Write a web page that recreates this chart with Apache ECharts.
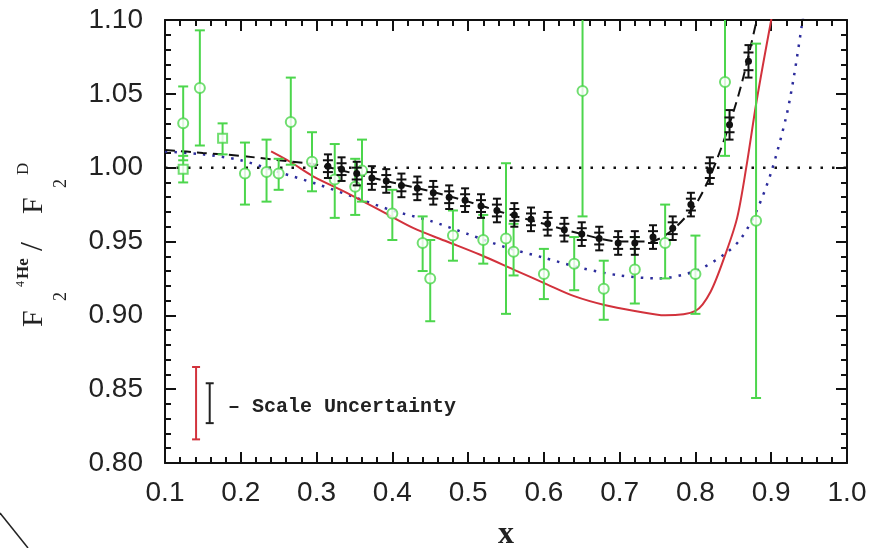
<!DOCTYPE html>
<html><head><meta charset="utf-8">
<script src="https://cdn.jsdelivr.net/npm/echarts@6/dist/echarts.min.js"></script>
<style>html,body{margin:0;padding:0;background:#fff;} #c{width:881px;height:548px;}</style>
</head><body><div id="c"></div>
<script>
// ---- data ----
const blackX = [0.315,0.333,0.353,0.373,0.392,0.412,0.433,0.454,0.475,0.496,0.517,0.538,0.561,0.583,0.605,0.627,0.650,0.673,0.698,0.720,0.744,0.770,0.794,0.819,0.845,0.870];
const blackY = [1.001,0.999,0.996,0.993,0.991,0.988,0.986,0.983,0.980,0.978,0.974,0.971,0.968,0.965,0.962,0.958,0.955,0.952,0.949,0.949,0.953,0.959,0.975,0.998,1.029,1.072];
const blackStat = [0.004,0.004,0.004,0.004,0.004,0.004,0.004,0.004,0.004,0.004,0.004,0.004,0.004,0.004,0.004,0.004,0.004,0.004,0.004,0.004,0.004,0.004,0.004,0.005,0.005,0.006];
const blackSys  = [0.008,0.008,0.008,0.008,0.008,0.008,0.008,0.008,0.008,0.008,0.008,0.008,0.008,0.008,0.008,0.008,0.008,0.008,0.008,0.008,0.008,0.008,0.008,0.009,0.010,0.011];

const greenX  = [0.124,0.124,0.146,0.176,0.2055,0.234,0.250,0.266,0.294,0.324,0.351,0.360,0.400,0.440,0.450,0.480,0.520,0.550,0.560,0.600,0.640,0.651,0.679,0.720,0.760,0.800,0.839,0.880];
const greenY  = [1.030,0.999,1.054,1.020,0.996,0.997,0.996,1.031,1.004,0.992,0.987,0.998,0.969,0.949,0.925,0.954,0.951,0.952,0.943,0.928,0.935,1.052,0.918,0.931,0.949,0.928,1.058,0.964];
const greenLo = [1.005,0.990,1.015,1.009,0.975,0.977,0.985,1.002,0.984,0.966,0.968,0.977,0.951,0.930,0.896,0.937,0.935,0.901,0.927,0.911,0.917,0.967,0.897,0.908,0.925,0.901,1.008,0.844];
const greenHi = [1.055,1.008,1.093,1.030,1.017,1.019,1.006,1.061,1.024,1.016,1.006,1.019,0.985,0.967,0.951,0.971,0.968,1.003,0.962,0.945,0.953,1.137,0.937,0.953,0.975,0.954,1.108,1.084];
const greenShape = ['c','s','c','s','c','c','c','c','c','c','c','c','c','c','c','c','c','c','c','c','c','c','c','c','c','c','c','c'];

const dashX = [0.10,0.15,0.20,0.25,0.30,0.35,0.40,0.45,0.50,0.55,0.60,0.65,0.70,0.74,0.77,0.80,0.82,0.84,0.86,0.88,0.885];
const dashY = [1.012,1.010,1.008,1.005,1.002,0.996,0.990,0.984,0.977,0.969,0.962,0.955,0.950,0.950,0.958,0.975,0.995,1.022,1.055,1.098,1.110];

const blueX = [0.10,0.15,0.20,0.25,0.30,0.35,0.40,0.45,0.50,0.55,0.60,0.65,0.70,0.75,0.80,0.84,0.86,0.88,0.90,0.92,0.93,0.94,0.945];
const blueY = [1.011,1.009,1.005,0.997,0.989,0.980,0.971,0.964,0.955,0.946,0.939,0.932,0.927,0.925,0.930,0.942,0.952,0.970,0.997,1.035,1.062,1.095,1.112];

const redX = [0.24,0.265,0.296,0.34,0.384,0.428,0.472,0.516,0.56,0.604,0.64,0.68,0.72,0.76,0.80,0.82,0.84,0.855,0.867,0.881,0.90,0.905];
const redY = [1.011,1.004,0.994,0.983,0.971,0.959,0.950,0.941,0.931,0.921,0.913,0.907,0.903,0.900,0.903,0.916,0.942,0.966,1.000,1.046,1.100,1.112];

const unityX = [0.1, 1.0];
const unityY = [1.0, 1.0];

const scaleX = [0.141, 0.159];
const scaleLo = [0.816, 0.827];
const scaleHi = [0.865, 0.854];
const scaleColor = ['#d2323c', '#222222'];

const xTickLabels = ['0.1','0.2','0.3','0.4','0.5','0.6','0.7','0.8','0.9','1.0'];
const yTickLabels = ['0.80','0.85','0.90','0.95','1.00','1.05','1.10'];

// ---- styles ----
const GREEN = '#4cd64c';
const BLACK = '#111111';
const LABEL_FONT = 'Liberation Sans';

const zip = (a, b) => a.map((v, i) => [v, b[i]]);

function greenBars(params, api) {
  const x = api.value(0), lo = api.value(2), hi = api.value(3);
  const pl = api.coord([x, lo]), ph = api.coord([x, hi]);
  const cw = 5;
  const st = {stroke: GREEN, lineWidth: 2};
  return {type: 'group', children: [
    {type: 'line', shape: {x1: pl[0], y1: pl[1], x2: ph[0], y2: ph[1]}, style: st},
    {type: 'line', shape: {x1: pl[0]-cw, y1: pl[1], x2: pl[0]+cw, y2: pl[1]}, style: st},
    {type: 'line', shape: {x1: ph[0]-cw, y1: ph[1], x2: ph[0]+cw, y2: ph[1]}, style: st}
  ]};
}

function blackBars(params, api) {
  const x = api.value(0), y = api.value(1), s1 = api.value(2), s2 = api.value(3);
  const p = api.coord([x, y]);
  const a = api.coord([x, y + s2]), b = api.coord([x, y - s2]);
  const c = api.coord([x, y + s1]), d = api.coord([x, y - s1]);
  const st = {stroke: BLACK, lineWidth: 2};
  const cw = 4, cw2 = 5;
  return {type: 'group', children: [
    {type: 'line', shape: {x1: p[0], y1: a[1], x2: p[0], y2: b[1]}, style: st},
    {type: 'line', shape: {x1: p[0]-cw, y1: a[1], x2: p[0]+cw, y2: a[1]}, style: st},
    {type: 'line', shape: {x1: p[0]-cw, y1: b[1], x2: p[0]+cw, y2: b[1]}, style: st},
    {type: 'line', shape: {x1: p[0]-cw2, y1: c[1], x2: p[0]+cw2, y2: c[1]}, style: st},
    {type: 'line', shape: {x1: p[0]-cw2, y1: d[1], x2: p[0]+cw2, y2: d[1]}, style: st},
    {type: 'circle', shape: {cx: p[0], cy: p[1], r: 3.5}, style: {fill: BLACK}}
  ]};
}

function scaleBars(params, api) {
  const x = api.value(0), lo = api.value(1), hi = api.value(2);
  const col = scaleColor[params.dataIndex];
  const pl = api.coord([x, lo]), ph = api.coord([x, hi]);
  const st = {stroke: col, lineWidth: 2};
  const cw = 4;
  return {type: 'group', children: [
    {type: 'line', shape: {x1: pl[0], y1: pl[1], x2: ph[0], y2: ph[1]}, style: st},
    {type: 'line', shape: {x1: pl[0]-cw, y1: pl[1], x2: pl[0]+cw, y2: pl[1]}, style: st},
    {type: 'line', shape: {x1: ph[0]-cw, y1: ph[1], x2: ph[0]+cw, y2: ph[1]}, style: st}
  ]};
}

const axisCommon = {
  type: 'value',
  axisLine: {show: true, onZero: false, lineStyle: {color: BLACK, width: 2}},
  axisTick: {show: true, inside: true, length: 11, lineStyle: {color: BLACK, width: 2}},
  minorTick: {show: true, splitNumber: 5, length: 6, lineStyle: {color: BLACK, width: 2}},
  splitLine: {show: false},
  minorSplitLine: {show: false}
};

const greenCirc = [], greenSq = [];
greenX.forEach((x, i) => {
  (greenShape[i] === 's' ? greenSq : greenCirc).push([x, greenY[i]]);
});

const option = {
  animation: false,
  backgroundColor: '#ffffff',
  grid: {left: 165, right: 34, top: 20, bottom: 85, containLabel: false},
  xAxis: [
    Object.assign({}, axisCommon, {
      position: 'bottom', min: 0.1, max: 1.0, interval: 0.1,
      axisLabel: {show: true, margin: 16, fontSize: 28, color: '#222', fontFamily: LABEL_FONT,
        formatter: v => xTickLabels[Math.round((v - 0.1) / 0.1)]}
    }),
    Object.assign({}, axisCommon, {
      position: 'top', min: 0.1, max: 1.0, interval: 0.1,
      axisLabel: {show: false}
    })
  ],
  yAxis: [
    Object.assign({}, axisCommon, {
      position: 'left', min: 0.8, max: 1.1, interval: 0.05,
      axisLabel: {show: true, margin: 22, fontSize: 28, color: '#222', fontFamily: LABEL_FONT,
        formatter: v => yTickLabels[Math.round((v - 0.8) / 0.05)]}
    }),
    Object.assign({}, axisCommon, {
      position: 'right', min: 0.8, max: 1.1, interval: 0.05,
      axisLabel: {show: false}
    })
  ],
  series: [
    {type: 'line', data: zip(unityX, unityY), symbol: 'none', silent: true,
      lineStyle: {color: BLACK, width: 2.5, type: [2.5, 9]}, z: 2},
    {type: 'line', data: zip(blueX, blueY), symbol: 'none', smooth: 0.3, clip: true,
      lineStyle: {color: '#2c2c9c', width: 2.5, type: [2.5, 7]}, z: 3},
    {type: 'line', data: zip(redX, redY), symbol: 'none', smooth: 0.3, clip: true,
      lineStyle: {color: '#d2323c', width: 2}, z: 3},
    {type: 'line', data: zip(dashX, dashY), symbol: 'none', smooth: 0.3, clip: true,
      lineStyle: {color: BLACK, width: 2, type: [10, 6]}, z: 4},
    {type: 'custom', renderItem: greenBars, clip: true, z: 5,
      data: greenX.map((x, i) => [x, greenY[i], greenLo[i], greenHi[i]])},
    {type: 'scatter', data: greenCirc, symbol: 'circle', symbolSize: 10, z: 6,
      itemStyle: {color: '#ffffff', borderColor: GREEN, borderWidth: 2}},
    {type: 'scatter', data: greenSq, symbol: 'rect', symbolSize: 9, z: 6,
      itemStyle: {color: '#ffffff', borderColor: GREEN, borderWidth: 2}},
    {type: 'custom', renderItem: blackBars, clip: true, z: 7,
      data: blackX.map((x, i) => [x, blackY[i], blackStat[i], blackSys[i]])},
    {type: 'custom', renderItem: scaleBars, z: 7,
      data: scaleX.map((x, i) => [x, scaleLo[i], scaleHi[i]])}
  ],
  graphic: [
    {type: 'group', x: 43, y: 327, rotation: Math.PI / 2, children: [
      {type: 'text', x: 0, y: -9, style: {text: 'F', font: '30px "Liberation Serif"', fill: '#222', textAlign: 'left', textVerticalAlign: 'middle'}},
      {type: 'text', x: 26, y: 18, style: {text: '2', font: '18px "Liberation Serif"', fill: '#222', textAlign: 'left', textVerticalAlign: 'middle'}},
      {type: 'text', x: 40, y: -22, style: {text: '4', font: '12px "Liberation Serif"', fill: '#222', textAlign: 'left', textVerticalAlign: 'middle'}},
      {type: 'text', x: 48, y: -19, style: {text: 'He', font: 'bold 17px "Liberation Serif"', fill: '#222', textAlign: 'left', textVerticalAlign: 'middle'}},
      {type: 'text', x: 76, y: -9, style: {text: '/', font: '32px "Liberation Serif"', fill: '#222', textAlign: 'left', textVerticalAlign: 'middle'}},
      {type: 'text', x: 113, y: -9, style: {text: 'F', font: '30px "Liberation Serif"', fill: '#222', textAlign: 'left', textVerticalAlign: 'middle'}},
      {type: 'text', x: 139, y: 18, style: {text: '2', font: '18px "Liberation Serif"', fill: '#222', textAlign: 'left', textVerticalAlign: 'middle'}},
      {type: 'text', x: 152, y: -19, style: {text: 'D', font: '17px "Liberation Serif"', fill: '#222', textAlign: 'left', textVerticalAlign: 'middle'}}
    ]},
    {type: 'text', x: 506, y: 535, style: {text: 'x', font: 'bold 32px "Liberation Serif"', fill: '#222', textAlign: 'center', textVerticalAlign: 'middle'}},
    {type: 'text', x: 228, y: 407, style: {text: '– Scale Uncertainty', font: 'bold 20px "Liberation Mono"', fill: '#222', textAlign: 'left', textVerticalAlign: 'middle'}},
    {type: 'line', shape: {x1: 0, y1: 513, x2: 28, y2: 548}, style: {stroke: '#222', lineWidth: 1.5}}
  ]
};

const chart = echarts.init(document.getElementById('c'), null, {renderer: 'canvas'});
chart.setOption(option);
</script>
</body></html>
